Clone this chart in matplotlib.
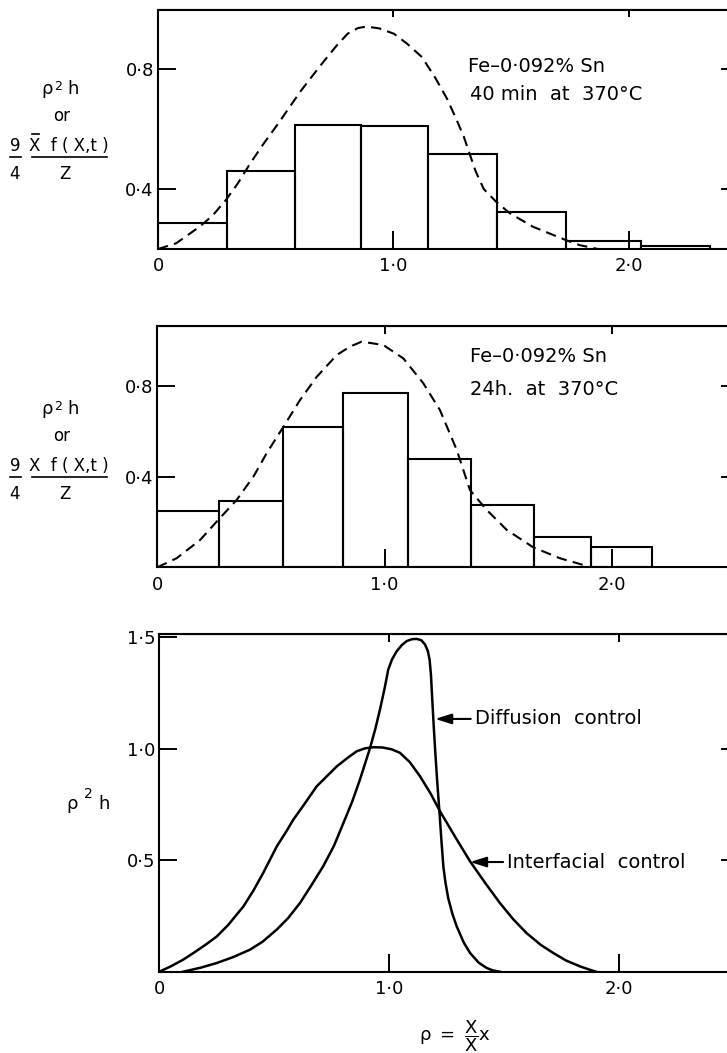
import matplotlib
matplotlib.use('Agg')
import matplotlib.pyplot as plt
from matplotlib.lines import Line2D

plt.rcParams['mathtext.default'] = 'regular'

# top panel: Fe-0.092% Sn, 40 min at 370 C
edges_40min = [0, 0.294, 0.583, 0.863, 1.146, 1.439, 1.733, 2.053, 2.346]
heights_40min = [0.288, 0.46, 0.614, 0.612, 0.517, 0.323, 0.227, 0.209]
theory_40min_x = [0.0, 0.077, 0.176, 0.23, 0.288, 0.34, 0.392, 0.45, 0.511, 0.56, 0.609,
                  0.66, 0.708, 0.76, 0.806, 0.85, 0.885, 0.94, 1.003, 1.06, 1.122, 1.18,
                  1.23, 1.27, 1.30, 1.325, 1.35, 1.385, 1.437, 1.496, 1.595, 1.733, 1.792, 1.87]
theory_40min_y = [0.2, 0.219, 0.274, 0.31, 0.363, 0.42, 0.486, 0.553, 0.619, 0.675, 0.73,
                  0.782, 0.83, 0.88, 0.919, 0.938, 0.943, 0.937, 0.919, 0.885, 0.841, 0.77,
                  0.70, 0.63, 0.575, 0.517, 0.46, 0.40, 0.358, 0.319, 0.274, 0.23, 0.213, 0.2]

# middle panel: Fe-0.092% Sn, 24 h at 370 C
edges_24h = [0, 0.273, 0.555, 0.819, 1.102, 1.379, 1.659, 1.909, 2.179]
heights_24h = [0.248, 0.293, 0.618, 0.771, 0.478, 0.275, 0.135, 0.088]
theory_24h_x = [0.0, 0.085, 0.188, 0.268, 0.349, 0.423, 0.481, 0.555, 0.628, 0.702, 0.79,
                0.85, 0.9, 0.995, 1.083, 1.171, 1.244, 1.318, 1.376, 1.45, 1.538, 1.655,
                1.772, 1.89]
theory_24h_y = [0.0, 0.04, 0.12, 0.209, 0.297, 0.4, 0.503, 0.62, 0.738, 0.841, 0.937,
                0.975, 0.996, 0.981, 0.922, 0.812, 0.694, 0.518, 0.341, 0.253, 0.165, 0.088,
                0.04, 0.006]

# bottom panel: theoretical size distributions
diffusion_x = [0.104, 0.18, 0.25, 0.32, 0.395, 0.45, 0.511, 0.56, 0.612, 0.66, 0.713, 0.76,
               0.801, 0.84, 0.873, 0.917, 0.94, 0.96, 0.98, 0.996, 1.012, 1.033, 1.055,
               1.076, 1.1, 1.12, 1.14, 1.156, 1.168, 1.176, 1.182, 1.186, 1.194, 1.201,
               1.21, 1.22, 1.228, 1.236, 1.245, 1.257, 1.275, 1.294, 1.325, 1.352, 1.39,
               1.424, 1.45, 1.482]
diffusion_y = [0.0, 0.018, 0.039, 0.065, 0.099, 0.135, 0.189, 0.24, 0.308, 0.385, 0.473,
               0.565, 0.667, 0.765, 0.862, 1.004, 1.09, 1.176, 1.27, 1.355, 1.40, 1.438,
               1.465, 1.483, 1.492, 1.493, 1.487, 1.468, 1.44, 1.40, 1.33, 1.25, 1.10, 0.98,
               0.84, 0.70, 0.58, 0.47, 0.40, 0.33, 0.26, 0.203, 0.13, 0.084, 0.04,
               0.017, 0.006, 0.0]
interface_x = [0.0, 0.05, 0.104, 0.15, 0.2, 0.25, 0.3, 0.366, 0.41, 0.452, 0.511, 0.55,
               0.583, 0.63, 0.685, 0.772, 0.82, 0.859, 0.895, 0.931, 0.97, 1.01, 1.047,
               1.09, 1.134, 1.18, 1.221, 1.286, 1.352, 1.42, 1.482, 1.54, 1.598, 1.66,
               1.714, 1.77, 1.83, 1.881, 1.9]
interface_y = [0.0, 0.024, 0.054, 0.085, 0.12, 0.158, 0.21, 0.293, 0.365, 0.443, 0.562,
               0.625, 0.682, 0.75, 0.832, 0.921, 0.96, 0.989, 1.002, 1.007, 1.006, 0.998,
               0.982, 0.94, 0.877, 0.80, 0.72, 0.607, 0.495, 0.395, 0.308, 0.235, 0.173,
               0.12, 0.084, 0.05, 0.024, 0.006, 0.0]

W, H = 727, 1053
fig = plt.figure(figsize=(W / 100, H / 100), dpi=100)


def fx(x):
    return x / W


def fy(y):
    return 1 - y / H


def make_axes(left, top, bottom, unit, ylo, yhi):
    ax = fig.add_axes([fx(left), fy(bottom), (729 - left) / W, (bottom - top) / H])
    ax.set_xlim(0, (729 - left) / unit)
    ax.set_ylim(ylo, yhi)
    for s in ax.spines.values():
        s.set_linewidth(1.5)
    ax.tick_params(direction='in', length=13, width=1.4, labelsize=13)
    ax.tick_params(axis='x', pad=6)
    ax.tick_params(axis='y', pad=3)
    return ax


def extra_ticks(ax, xt, yt):
    top = ax.secondary_xaxis('top')
    top.set_xticks(xt)
    top.set_xticklabels([])
    top.tick_params(direction='in', length=6, width=1.4)
    right = ax.secondary_yaxis('right')
    right.set_yticks(yt)
    right.set_yticklabels([])
    right.tick_params(direction='in', length=6, width=1.4)


def hline(x0, x1, y):
    fig.add_artist(Line2D([fx(x0), fx(x1)], [fy(y), fy(y)], color='k', lw=1.2))


def txt(x, y, s, size=12, va='center', ha='center'):
    fig.text(fx(x), fy(y), s, fontsize=size, ha=ha, va=va)


def ylabel_block(y0, bar_over_x):
    # y0 = baseline of the rho^2 h line
    txt(47, y0, 'ρ', 13, va='baseline')
    txt(58.5, y0 - 8, '2', 9)
    txt(73, y0, 'h', 13, va='baseline')
    txt(61.5, y0 + 22, 'or', 12)
    txt(15, y0 + 52, '9', 12)
    hline(10, 21, y0 + 62.5)
    txt(15, y0 + 80, '4', 12)
    txt(69, y0 + 52, 'X  f ( X,t )', 12)
    hline(31.7, 106.7, y0 + 62.5)
    txt(65, y0 + 80, 'Z', 12)
    if bar_over_x:
        hline(31.5, 39, y0 + 40)


dash = (0, (5, 3))

# ---- top panel
ax1 = make_axes(158, 9.5, 249, 235.25, 0.2, 1.0)
ax1.bar(edges_40min[:-1], heights_40min,
        width=[b - a for a, b in zip(edges_40min[:-1], edges_40min[1:])],
        align='edge', fill=False, edgecolor='k', linewidth=1.5)
ax1.plot(theory_40min_x, theory_40min_y, color='k', lw=1.5, linestyle=dash)
ax1.set_xticks([0, 1, 2], ['0', '1·0', '2·0'])
ax1.set_yticks([0.4, 0.8], ['0·4', '0·8'])
extra_ticks(ax1, [1, 2], [0.4, 0.8])
txt(468, 67, 'Fe–0·092% Sn', 14, ha='left')
txt(470, 95, '40 min  at  370°C', 14, ha='left')
ylabel_block(94, True)

# ---- middle panel
ax2 = make_axes(157.3, 326, 567.3, 227.2, 0, 1.065)
ax2.bar(edges_24h[:-1], heights_24h,
        width=[b - a for a, b in zip(edges_24h[:-1], edges_24h[1:])],
        align='edge', fill=False, edgecolor='k', linewidth=1.5)
ax2.plot(theory_24h_x, theory_24h_y, color='k', lw=1.5, linestyle=dash)
ax2.set_xticks([0, 1, 2], ['0', '1·0', '2·0'])
ax2.set_yticks([0.4, 0.8], ['0·4', '0·8'])
extra_ticks(ax2, [1, 2], [0.4, 0.8])
txt(470, 356, 'Fe–0·092% Sn', 14, ha='left')
txt(470, 389, '24h.  at  370°C', 14, ha='left')
ylabel_block(414, False)

# ---- bottom panel
ax3 = make_axes(159.3, 634, 971.7, 229.85, 0, 1.515)
ax3.plot(diffusion_x, diffusion_y, color='k', lw=1.8)
ax3.plot(interface_x, interface_y, color='k', lw=1.8)
ax3.set_xticks([0, 1, 2], ['0', '1·0', '2·0'])
ax3.set_yticks([0.5, 1.0, 1.5], ['0·5', '1·0', '1·5'])
extra_ticks(ax3, [1, 2], [0.5, 1.0])
arrow = dict(arrowstyle='-|>,head_length=0.7,head_width=0.22', color='k',
             lw=1.5, shrinkA=1, shrinkB=0)
ax3.annotate('Diffusion  control', xy=(1.2, 1.134), xytext=(1.373, 1.134),
             ha='left', va='center', fontsize=14, arrowprops=arrow)
ax3.annotate('Interfacial  control', xy=(1.352, 0.492), xytext=(1.514, 0.492),
             ha='left', va='center', fontsize=14, arrowprops=arrow)
txt(72.5, 809, 'ρ', 13, va='baseline')
txt(88.5, 794, '2', 10)
txt(104, 809, 'h', 13, va='baseline')
fig.text(fx(455), fy(1036), r'$ρ\ =\ \dfrac{X}{X}x$', fontsize=13, ha='center', va='center')

fig.savefig('out.png', dpi=100)
